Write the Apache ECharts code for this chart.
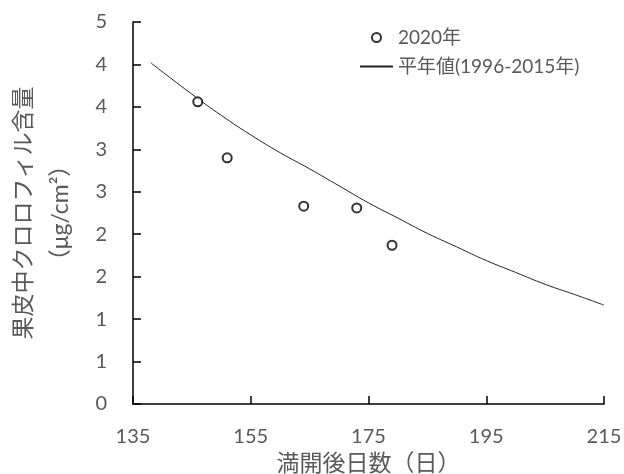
<!DOCTYPE html>
<html>
<head>
<meta charset="utf-8">
<script src="https://cdn.jsdelivr.net/npm/echarts@6/dist/echarts.min.js"></script>
<style>
  html, body { margin: 0; padding: 0; background: #fff; }
  #chart { width: 624px; height: 474px; }
</style>
</head>
<body>
<div id="chart"></div>
<script>
// 2020年の実測値
const obsDays = [146, 151, 164, 173, 179];
const obsValues = [3.56, 2.90, 2.33, 2.31, 1.87];
// 平年値(1996-2015年)
const normDays = [138, 145, 150, 155, 160, 165, 170, 175, 180, 185, 190, 195, 200, 205, 210, 215];
const normValues = [4.02, 3.65, 3.40, 3.17, 2.96, 2.77, 2.57, 2.37, 2.19, 2.01, 1.85, 1.69, 1.55, 1.41, 1.29, 1.165];
// 軸
const xTicks = [135, 155, 175, 195, 215];
const yMin = 0, yMax = 4.5, yStep = 0.5;

const font = "Lato, 'Noto Sans CJK JP', sans-serif";
const gray = "#595959";

const chart = echarts.init(document.getElementById("chart"));

const option = {
  animation: false,
  textStyle: { fontFamily: font },
  grid: { left: 133, right: 20, top: 22, bottom: 70, outerBoundsMode: "none", containLabel: false },
  legend: {
    orient: "vertical",
    left: 359,
    top: 28,
    padding: 0,
    itemWidth: 33,
    itemHeight: 9,
    itemGap: 10,
    textStyle: { color: gray, fontSize: 19, fontFamily: font },
    data: [
      { name: "2020年", icon: "emptyCircle" },
      // 線だけ表示（マーカーは隠す）
      { name: "平年値(1996-2015年)", itemStyle: { opacity: 0 } }
    ]
  },
  xAxis: {
    type: "value",
    min: xTicks[0],
    max: xTicks[xTicks.length - 1],
    interval: 20,
    name: "満開後日数（日）",
    nameLocation: "middle",
    nameGap: 47,
    nameTextStyle: { color: gray, fontSize: 23, fontFamily: font },
    axisLine: { lineStyle: { color: "#000", width: 1.5 } },
    axisTick: { inside: true, length: 8, lineStyle: { color: "#000", width: 1.5 } },
    axisLabel: { color: gray, fontSize: 20, margin: 23 },
    splitLine: { show: false }
  },
  yAxis: {
    type: "value",
    min: yMin,
    max: yMax,
    interval: yStep,
    name: "果皮中クロロフィル含量\n（μg/cm²）",
    nameLocation: "middle",
    nameGap: 54,
    nameRotate: 90,
    nameTextStyle: { color: gray, fontSize: 23, lineHeight: 37, fontFamily: font },
    axisLine: { show: true, lineStyle: { color: "#000", width: 1.5 } },
    axisTick: { show: true, inside: true, length: 8, lineStyle: { color: "#000", width: 1.5 } },
    // Excelの表示形式（小数なし）に合わせて四捨五入
    axisLabel: { color: gray, fontSize: 20, margin: 26, formatter: v => String(Math.round(v)) },
    splitLine: { show: false }
  },
  series: [
    {
      name: "2020年",
      type: "scatter",
      symbol: "emptyCircle",
      symbolSize: 9,
      itemStyle: { color: "#000", borderWidth: 1.5 },
      data: obsDays.map((d, i) => [d, obsValues[i]]),
      z: 3
    },
    {
      name: "平年値(1996-2015年)",
      type: "line",
      smooth: true,
      symbol: "none",
      lineStyle: { color: "#222", width: 1 },
      itemStyle: { color: "#222" },
      data: normDays.map((d, i) => [d, normValues[i]]),
      z: 2
    }
  ]
};

chart.setOption(option);
</script>
</body>
</html>
